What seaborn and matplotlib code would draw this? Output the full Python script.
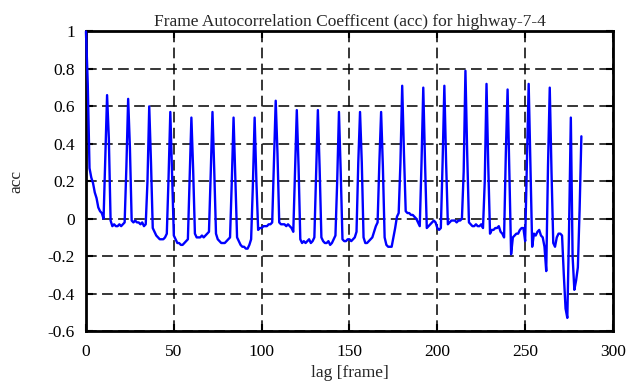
import numpy as np
import pandas as pd
import seaborn as sns
import matplotlib.pyplot as plt

sns.set_style("ticks")
plt.rcParams['font.family'] = ['Liberation Serif', 'DejaVu Serif']

# autocorrelation per lag, one row per 12-frame GOP
acc = [
    1.00, 0.72, 0.27, 0.22, 0.19, 0.14, 0.11, 0.06, 0.04, 0.03, 0.00, 0.32,
    0.66, 0.43, -0.01, -0.04, -0.03, -0.04, -0.04, -0.03, -0.04, -0.03, -0.02, 0.28,
    0.64, 0.38, -0.01, -0.02, -0.01, -0.02, -0.02, -0.03, -0.02, -0.04, -0.03, 0.20,
    0.60, 0.30, -0.05, -0.07, -0.09, -0.10, -0.11, -0.11, -0.11, -0.10, -0.08, 0.22,
    0.57, 0.25, -0.09, -0.11, -0.13, -0.13, -0.14, -0.14, -0.13, -0.12, -0.11, 0.22,
    0.54, 0.26, -0.08, -0.10, -0.10, -0.10, -0.09, -0.10, -0.09, -0.08, -0.07, 0.24,
    0.57, 0.26, -0.08, -0.11, -0.12, -0.13, -0.13, -0.13, -0.12, -0.11, -0.10, 0.20,
    0.54, 0.22, -0.10, -0.12, -0.14, -0.15, -0.15, -0.16, -0.16, -0.14, -0.11, 0.18,
    0.54, 0.20, -0.06, -0.05, -0.05, -0.04, -0.04, -0.04, -0.03, -0.03, -0.02, 0.30,
    0.63, 0.35, -0.02, -0.03, -0.03, -0.03, -0.04, -0.03, -0.04, -0.05, -0.07, 0.25,
    0.58, 0.28, -0.11, -0.13, -0.12, -0.13, -0.12, -0.11, -0.13, -0.12, -0.10, 0.25,
    0.58, 0.27, -0.10, -0.12, -0.13, -0.13, -0.12, -0.14, -0.13, -0.11, -0.09, 0.20,
    0.57, 0.25, -0.11, -0.12, -0.12, -0.11, -0.11, -0.12, -0.11, -0.10, -0.07, 0.30,
    0.57, 0.30, -0.10, -0.13, -0.13, -0.12, -0.11, -0.10, -0.07, -0.04, -0.02, 0.30,
    0.57, 0.28, -0.10, -0.14, -0.15, -0.15, -0.15, -0.10, -0.05, 0.01, 0.03, 0.30,
    0.71, 0.35, 0.04, 0.03, 0.03, 0.02, 0.02, 0.01, 0.00, -0.02, -0.04, 0.30,
    0.70, 0.30, -0.05, -0.04, -0.03, -0.02, -0.01, -0.02, -0.05, -0.06, -0.05, 0.30,
    0.71, 0.30, -0.03, -0.02, -0.01, -0.01, -0.01, -0.02, -0.01, -0.01, 0.00, 0.25,
    0.79, 0.35, -0.02, -0.03, -0.04, -0.04, -0.03, -0.04, -0.04, -0.03, -0.05, 0.20,
    0.72, 0.28, -0.08, -0.06, -0.06, -0.05, -0.05, -0.04, -0.07, -0.08, -0.10, 0.35,
    0.69, 0.25, -0.19, -0.10, -0.09, -0.08, -0.08, -0.06, -0.05, -0.05, -0.12, 0.30,
    0.72, 0.28, -0.15, -0.08, -0.09, -0.07, -0.06, -0.09, -0.10, -0.15, -0.28, 0.28,
    0.70, 0.25, -0.13, -0.15, -0.10, -0.08, -0.08, -0.09, -0.30, -0.48, -0.53, -0.05,
    0.54, -0.20, -0.38, -0.33, -0.26, 0.05, 0.44,
]
lag = np.arange(len(acc))
df = pd.DataFrame({"lag": lag, "acc": acc})

fig = plt.figure(figsize=(6.3, 3.87), dpi=100)
ax = fig.add_axes([0.1365, 0.1447, 0.8365, 0.774])
sns.lineplot(data=df, x="lag", y="acc", color="#0000ff", linewidth=1.7, ax=ax)
# gnuplot draws the curve over the border
ax.lines[0].set_zorder(3)
ax.lines[0].set_clip_on(False)

ax.set_xlim(0, 300)
ax.set_ylim(-0.6, 1)
ax.set_xticks(range(0, 301, 50))
ax.set_yticks([-0.6, -0.4, -0.2, 0, 0.2, 0.4, 0.6, 0.8, 1])
ax.set_yticklabels(["-0.6", "-0.4", "-0.2", "0", "0.2", "0.4", "0.6", "0.8", "1"])
ax.grid(True, color="black", linestyle=(0, (7, 3.5)), linewidth=1.1)
ax.tick_params(direction="in", length=5, width=1.5, top=True, right=True,
               labelsize=12.5, colors="black")
ax.tick_params(axis="x", pad=9)
ax.tick_params(axis="y", pad=8)
for s in ax.spines.values():
    s.set_linewidth(2)
    s.set_color("black")

ax.set_title("Frame Autocorrelation Coefficent (acc) for highway-7-4", fontsize=12.5, pad=4)
ax.set_xlabel("lag [frame]", fontsize=12.5, labelpad=4)
ax.set_ylabel("acc", fontsize=12.5, labelpad=17)

fig.savefig("out.png", dpi=100)
